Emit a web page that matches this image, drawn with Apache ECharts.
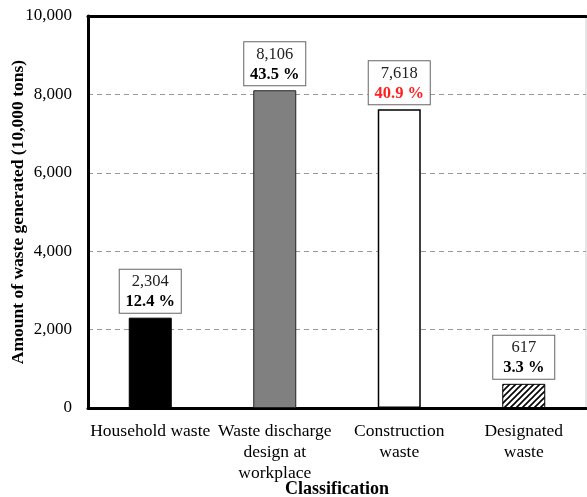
<!DOCTYPE html>
<html>
<head>
<meta charset="utf-8">
<script src="https://cdn.jsdelivr.net/npm/echarts@6/dist/echarts.min.js"></script>
<style>
  html, body { margin: 0; padding: 0; background: #fff; }
  #chart { width: 587px; height: 497px; }
</style>
</head>
<body>
<div id="chart"></div>
<script>
// Waste generated by classification (unit: 10,000 tons) and share of total
const categories = ['Household waste', 'Waste discharge\ndesign at\nworkplace', 'Construction\nwaste', 'Designated\nwaste'];
const amounts = [2304, 8106, 7618, 617];
const shares = ['12.4 %', '43.5 %', '40.9 %', '3.3 %'];
const shareHighlight = [false, false, true, false];
const yTicks = [0, 2000, 4000, 6000, 8000, 10000];

const FONT = '"Liberation Serif", "Times New Roman", serif';

// Diagonal hatch fill for the designated-waste bar
function hatchPattern() {
  const c = document.createElement('canvas');
  c.width = 6; c.height = 6;
  const g = c.getContext('2d');
  g.fillStyle = '#fff';
  g.fillRect(0, 0, 6, 6);
  g.strokeStyle = '#000';
  g.lineWidth = 1.6;
  g.beginPath();
  g.moveTo(-1, 7); g.lineTo(7, -1);
  g.moveTo(-4, 4); g.lineTo(4, -4);
  g.moveTo(2, 10); g.lineTo(10, 2);
  g.stroke();
  return c;
}

const barStyles = [
  { color: '#000000', borderColor: '#000000', borderWidth: 1 },
  { color: '#808080', borderColor: '#222222', borderWidth: 1 },
  { color: '#ffffff', borderColor: '#000000', borderWidth: 1.5 },
  { color: { image: hatchPattern(), repeat: 'repeat' }, borderColor: '#000000', borderWidth: 1 }
];

const fmt = v => v.toLocaleString('en-US');

const chart = echarts.init(document.getElementById('chart'), null, { renderer: 'canvas' });

chart.setOption({
  animation: false,
  backgroundColor: '#ffffff',
  textStyle: { fontFamily: FONT },
  grid: {
    left: 88, right: 1, top: 16, bottom: 89,
    outerBoundsMode: 'none',
    containLabel: false,
    show: true, borderColor: '#cccccc', borderWidth: 1, backgroundColor: 'transparent'
  },
  xAxis: [{
    type: 'category',
    data: categories,
    name: 'Classification',
    nameLocation: 'middle',
    nameGap: 72,
    nameMoveOverlap: false,
    nameTextStyle: { fontFamily: FONT, fontWeight: 'bold', fontSize: 18, color: '#000' },
    axisLine: { show: true, lineStyle: { color: '#000', width: 3 } },
    axisTick: { show: false },
    axisLabel: {
      interval: 0, margin: 13, fontFamily: FONT, fontSize: 17.5, lineHeight: 21, color: '#000'
    }
  }, {
    type: 'category',
    position: 'top',
    data: categories,
    axisLine: { show: true, lineStyle: { color: '#000', width: 3 } },
    axisTick: { show: false },
    axisLabel: { show: false }
  }],
  yAxis: {
    type: 'value',
    min: yTicks[0],
    max: yTicks[yTicks.length - 1],
    interval: 2000,
    name: 'Amount of waste generated (10,000 tons)',
    nameLocation: 'middle',
    nameGap: 61,
    nameMoveOverlap: false,
    nameTextStyle: { fontFamily: FONT, fontWeight: 'bold', fontSize: 17.5, color: '#000' },
    axisLine: { show: true, lineStyle: { color: '#000', width: 3 } },
    axisTick: { show: false },
    axisLabel: {
      margin: 16, fontFamily: FONT, fontSize: 17, color: '#000',
      formatter: v => fmt(v)
    },
    splitLine: {
      show: true,
      lineStyle: { color: '#999999', type: [5, 4], width: 1 }
    }
  },
  series: [{
    type: 'bar',
    barWidth: 43,
    data: amounts.map((v, i) => ({ value: v, itemStyle: barStyles[i] })),
    label: {
      show: true,
      position: 'top',
      distance: 5,
      backgroundColor: '#ffffff',
      borderColor: '#666666',
      borderWidth: 1,
      padding: [2, 5, 1, 5],
      width: 51,
      align: 'center',
      formatter: p => '{v|' + fmt(amounts[p.dataIndex]) + '}\n' +
        (shareHighlight[p.dataIndex] ? '{pr|' : '{p|') + shares[p.dataIndex] + '}',
      rich: {
        v: { fontFamily: FONT, fontSize: 16.5, lineHeight: 20, color: '#222', align: 'center', width: 51 },
        p: { fontFamily: FONT, fontSize: 16.5, lineHeight: 20, fontWeight: 'bold', color: '#000', align: 'center', width: 51 },
        pr: { fontFamily: FONT, fontSize: 16.5, lineHeight: 20, fontWeight: 'bold', color: '#ff2020', align: 'center', width: 51 }
      }
    }
  }]
});
</script>
</body>
</html>
